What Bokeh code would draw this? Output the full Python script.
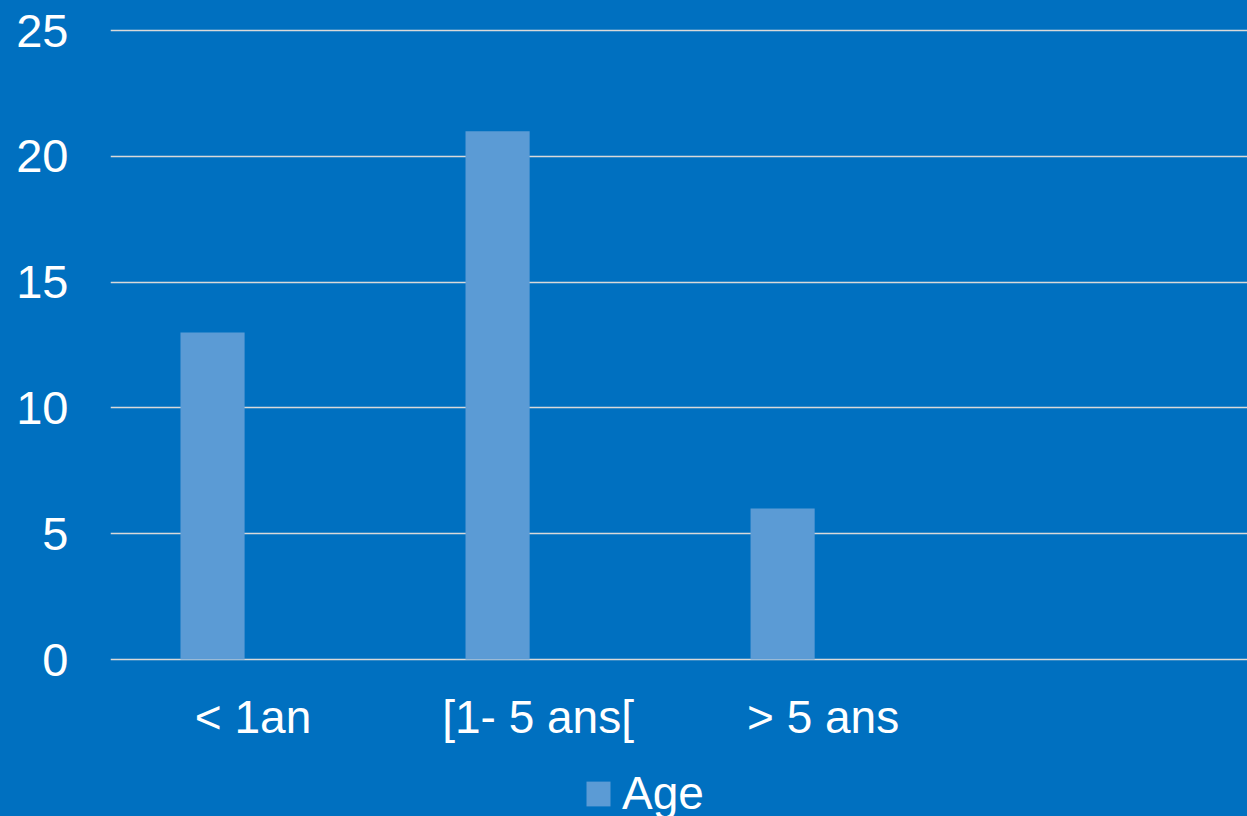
from bokeh.plotting import figure
from bokeh.models import FixedTicker, Legend, LegendItem, Range1d, ColumnDataSource
from bokeh.core.properties import value
from bokeh.embed import file_html
from bokeh.resources import INLINE

# Data
categories = ["< 1an", "[1- 5 ans[", "> 5 ans", ""]
age = [13, 21, 6]
y_ticks = [0, 5, 10, 15, 20, 25]
series_name = "Age"

BG = "#0070C0"
BAR = "#5B9BD5"
GRID = "#D9D9D9"
FONT = "Liberation Sans"

# Each category occupies one unit; the bar sits in the left part of its slot
bar_offset = 0.358
bar_width = 0.225

bars = ColumnDataSource(dict(
    x=[i + bar_offset for i in range(len(age))],
    top=age,
))
cats = ColumnDataSource(dict(
    x=[i + 0.5 for i in range(len(categories))],
    y=[0] * len(categories),
    text=categories,
))

p = figure(
    width=1247, height=816,
    output_backend="svg", toolbar_location=None,
    x_range=Range1d(0, 3.989),
    y_range=Range1d(-6.240, 25.795),
    min_border_left=110, min_border_right=0,
    min_border_top=10, min_border_bottom=0,
)
p.background_fill_color = BG
p.border_fill_color = BG
p.outline_line_color = None
p.styles = {"background-color": BG}

r = p.vbar(x="x", top="top", bottom=0, width=bar_width, source=bars,
           fill_color=BAR, line_color=None)

# Category labels under the baseline, centred in each slot
p.text(x="x", y="y", text="text", source=cats,
       text_align="center", text_baseline="alphabetic", y_offset=57,
       text_color="white", text_font=value(FONT), text_font_size="46px")

# Y axis
p.yaxis.ticker = FixedTicker(ticks=y_ticks)
p.yaxis.axis_line_color = None
p.yaxis.major_tick_line_color = None
p.yaxis.minor_tick_line_color = None
p.yaxis.major_label_text_color = "white"
p.yaxis.major_label_text_font = FONT
p.yaxis.major_label_text_font_size = "47px"
p.yaxis.major_label_standoff = 36
p.yaxis.bounds = (0, 25)
p.xaxis.visible = False

p.xgrid.grid_line_color = None
p.ygrid.ticker = FixedTicker(ticks=y_ticks)
p.ygrid.grid_line_color = GRID
p.ygrid.grid_line_width = 1.5

legend = Legend(
    items=[LegendItem(label=series_name, renderers=[r])],
    location=(473, -4),
    orientation="horizontal",
    glyph_width=30, glyph_height=31,
    label_standoff=9,
    padding=0, margin=0, spacing=0,
    background_fill_alpha=0, border_line_color=None,
    label_text_color="white", label_text_font=FONT,
    label_text_font_size="46px",
)
p.add_layout(legend, "center")

open("out.html", "w").write(file_html(p, INLINE))
